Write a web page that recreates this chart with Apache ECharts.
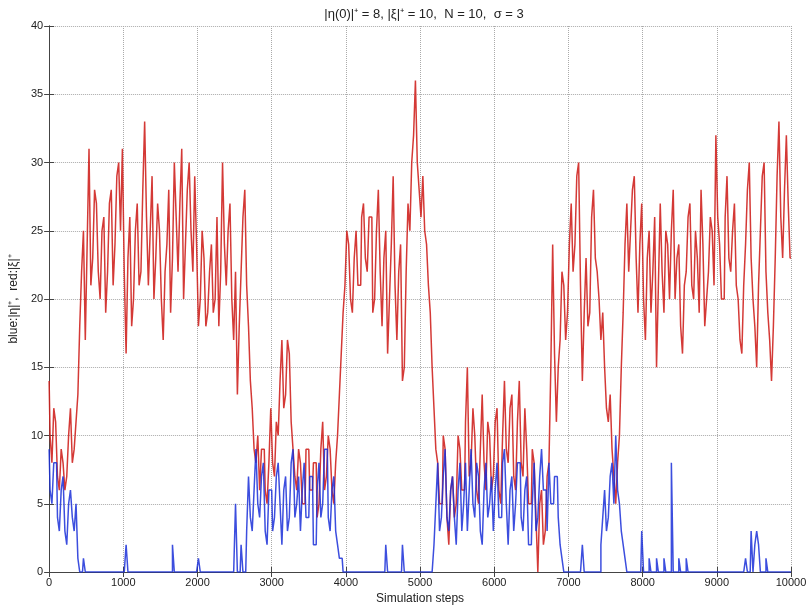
<!DOCTYPE html>
<html>
<head>
<meta charset="utf-8">
<script src="https://cdn.jsdelivr.net/npm/echarts@6/dist/echarts.min.js"></script>
<style>
  html, body { margin: 0; padding: 0; background: #fff; }
  #chart { width: 811px; height: 611px; }
</style>
</head>
<body>
<div id="chart"></div>
<script>
// one sample every 25 simulation steps
var sampleStep = 25;

// red: |xi|+  (40 samples per 1000 steps)
var redVals = [
  14,10,8,12,11,7,6,9,8,6, 7,10,12,8,9,11,13,18,22,25, 17,24,31,21,23,28,27,22,20,25, 26,19,22,27,28,21,24,29,30,25,
  31,22,16,23,26,18,20,25,27,21, 22,28,33,26,21,25,29,20,23,27, 25,20,17,22,24,28,19,23,30,26, 22,27,31,20,24,28,30,25,22,29,
  24,18,20,25,23,18,19,22,24,19, 20,26,18,22,30,24,21,25,27,20, 17,22,13,18,22,26,28,21,18,14, 12,9,8,10,6,9,9,6,5,8,
  12,8,7,11,10,14,17,12,13,17, 16,11,9,7,6,9,8,5,5,9, 9,6,6,8,8,4,5,9,11,6, 7,10,9,6,5,8,10,13,16,19,
  21,25,24,20,19,23,25,21,21,26, 27,23,22,26,26,19,20,25,28,22, 18,23,25,16,20,24,29,21,17,22, 24,14,15,22,27,25,30,32,36,30,
  28,26,29,25,24,21,19,15,12,9, 8,5,5,10,9,4,2,6,7,4, 5,10,9,6,6,11,15,7,8,12, 10,6,5,9,13,8,6,11,10,6,
  7,11,12,6,5,10,14,9,8,12, 13,7,6,11,14,8,7,12,9,5, 5,9,8,4,0,5,6,2,3,7, 8,15,24,16,11,15,17,22,21,17,
  19,24,27,22,24,29,30,21,14,19, 23,18,19,26,28,23,22,20,17,19, 15,12,11,13,9,7,5,8,10,15, 19,24,27,22,25,28,29,23,19,24,
  27,20,17,23,25,19,22,26,15,21, 27,22,19,25,24,20,25,28,20,23, 24,18,16,21,22,26,27,21,20,25, 23,19,28,24,18,20,22,26,25,21,
  32,26,24,20,20,26,29,23,22,25, 27,21,20,17,16,21,24,28,30,23, 20,18,15,21,25,29,30,22,19,17, 14,18,23,29,33,26,23,28,32,27,
  23
];

// blue: |eta|+
var blueVals = [
  9,6,5,8,8,4,3,6,7,3, 2,5,6,4,3,5,1,0,0,1, 0,0,0,0,0,0,0,0,0,0, 0,0,0,0,0,0,0,0,0,0,
  0,0,2,0,0,0,0,0,0,0, 0,0,0,0,0,0,0,0,0,0, 0,0,0,0,0,0,0,2,0,0, 0,0,0,0,0,0,0,0,0,0,
  0,1,0,0,0,0,0,0,0,0, 0,0,0,0,0,0,0,0,0,0, 0,5,0,0,2,0,0,3,7,4, 3,6,9,5,4,7,8,3,2,6,
  6,3,4,7,8,5,2,6,7,3, 4,8,9,4,5,7,3,6,8,4, 4,7,7,2,2,6,8,4,5,9, 9,4,3,6,7,3,2,1,1,0,
  0,0,0,0,0,0,0,0,0,0, 0,0,0,0,0,0,0,0,0,0, 0,0,2,0,0,0,0,0,0,0, 0,2,0,0,0,0,0,0,0,0,
  0,0,0,0,0,0,0,0,2,5, 8,3,4,7,9,4,3,6,7,4, 2,6,8,3,5,8,3,6,9,5, 4,8,7,3,2,6,8,4,5,7,
  3,6,8,4,4,8,9,5,2,6, 7,3,5,8,8,4,3,6,7,2, 2,5,8,3,4,7,9,6,6,3, 8,5,5,7,7,4,2,1,0,0,
  0,0,0,0,0,0,0,0,2,0, 0,0,0,0,0,0,0,0,2,4, 6,3,4,7,8,5,10,6,5,3, 2,1,0,0,0,0,0,0,0,0,
  3,0,0,0,1,0,0,0,1,0, 0,0,1,0,0,0,8,0,0,0, 1,0,0,0,1,0,0,0,0,0, 0,0,0,0,0,0,0,0,0,0,
  0,0,0,0,0,0,0,0,0,0, 0,0,0,0,0,0,1,0,0,3, 0,2,3,2,0,0,0,1,0,0, 0,0,0,0,0,0,0,0,0,0,
  0
];

var titleText = '|η(0)|⁺ = 8, |ξ|⁺ = 10,  N = 10,  σ = 3';
var yName = 'blue:|η|⁺,  red:|ξ|⁺';
var xName = 'Simulation steps';

function pairs(vals) {
  return vals.map(function (v, i) { return [i * sampleStep, v]; });
}

var font = 'Liberation Sans, Arial, sans-serif';
var chart = echarts.init(document.getElementById('chart'));

// top / right edges of the box, ticks only
var frame = {
  axisLine: { show: true, lineStyle: { color: '#444', width: 1 } },
  axisTick: { show: true, inside: true, length: 5, lineStyle: { color: '#444' } },
  axisLabel: { show: false },
  splitLine: { show: false }
};

chart.setOption({
  animation: false,
  title: {
    text: titleText,
    left: 419, top: 3, textAlign: 'center',
    textStyle: { fontFamily: font, fontSize: 13, fontWeight: 'normal', color: '#222' }
  },
  grid: { left: 47, right: 20, top: 26, bottom: 39 },
  xAxis: [
    {
      type: 'value', min: 0, max: 10000, interval: 1000,
      name: xName, nameLocation: 'middle', nameGap: 21,
      nameTextStyle: { fontFamily: font, fontSize: 12, color: '#222' },
      axisLine: { lineStyle: { color: '#444' } },
      axisTick: { inside: true, length: 5, lineStyle: { color: '#444' } },
      axisLabel: {
        fontFamily: font, fontSize: 11, color: '#222', margin: 5,
        formatter: function (v) { return String(v); }
      },
      splitLine: { show: true, lineStyle: { type: 'dotted', color: '#aaa' } }
    },
    Object.assign({ type: 'value', position: 'top', min: 0, max: 10000, interval: 1000 }, frame)
  ],
  yAxis: [
    {
      type: 'value', min: 0, max: 40, interval: 5,
      name: yName, nameLocation: 'middle', nameGap: 24,
      nameTextStyle: { fontFamily: font, fontSize: 12, color: '#222' },
      axisLine: { show: true, lineStyle: { color: '#444' } },
      axisTick: { show: true, inside: true, length: 5, lineStyle: { color: '#444' } },
      axisLabel: { fontFamily: font, fontSize: 11, color: '#222', margin: 6 },
      splitLine: { show: true, lineStyle: { type: 'dotted', color: '#aaa' } }
    },
    Object.assign({ type: 'value', position: 'right', min: 0, max: 40, interval: 5 }, frame)
  ],
  series: [
    {
      type: 'line', step: 'middle', data: pairs(redVals), showSymbol: false,
      lineStyle: { color: '#cf2420', width: 1.5, opacity: 0.9 }
    },
    {
      type: 'line', step: 'middle', data: pairs(blueVals), showSymbol: false,
      lineStyle: { color: '#1a2fd8', width: 1.5, opacity: 0.85 }
    }
  ]
});
</script>
</body>
</html>
